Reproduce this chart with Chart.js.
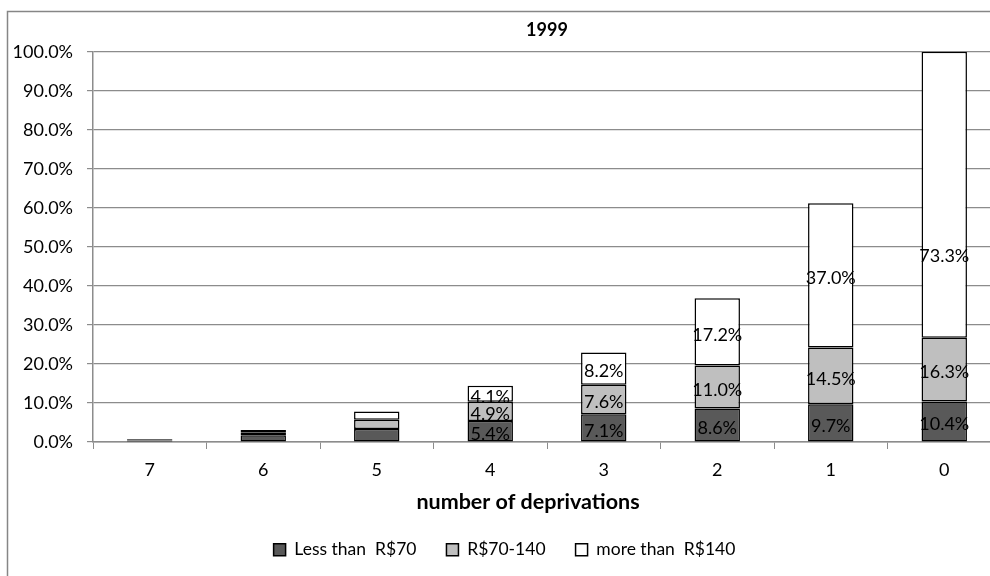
<!DOCTYPE html>
<html>
<head>
<meta charset="utf-8">
<script src="https://cdn.jsdelivr.net/npm/chart.js@4/dist/chart.umd.min.js"></script>
<style>
  html, body { margin: 0; padding: 0; background: #fff; overflow: hidden; }
  #wrap { position: absolute; left: 0; top: 0; width: 1030px; height: 600px; }
</style>
</head>
<body>
<div id="wrap"><canvas id="chart" width="1030" height="600"></canvas></div>
<script>
// Share of people by number of deprivations and household income band, 1999
const categories = ['7', '6', '5', '4', '3', '2', '1', '0'];
const lessThan70 = [0.4, 1.7, 3.3, 5.4, 7.1, 8.6, 9.7, 10.4];
const r70to140 = [0.2, 0.7, 2.4, 4.9, 7.6, 11.0, 14.5, 16.3];
const moreThan140 = [0.2, 0.7, 2.1, 4.1, 8.2, 17.2, 37.0, 73.3];
const yTicks = [0, 10, 20, 30, 40, 50, 60, 70, 80, 90, 100];

const FONT = 'Lato, "Liberation Sans", sans-serif';
const GRID = '#8c8c8c';

// The label of the tall top segment of column '0' sits lower than its centre
const labelAt = { '2:7': 48.5 };

// Outer frame of the chart
const framePlugin = {
  id: 'frame',
  beforeDraw(chart) {
    const ctx = chart.ctx;
    ctx.save();
    ctx.strokeStyle = '#868686';
    ctx.lineWidth = 1.5;
    ctx.strokeRect(7.5, 11.5, chart.width + 20, chart.height + 20);
    ctx.restore();
  }
};

// Value labels in each stacked segment, and the x-axis title
const labelPlugin = {
  id: 'segmentLabels',
  afterDatasetsDraw(chart) {
    const ctx = chart.ctx;
    const yScale = chart.scales.y;
    ctx.save();
    ctx.font = '18px ' + FONT;
    ctx.fillStyle = '#000';
    ctx.textAlign = 'center';
    ctx.textBaseline = 'middle';
    chart.data.datasets.forEach((ds, di) => {
      const meta = chart.getDatasetMeta(di);
      meta.data.forEach((bar, i) => {
        const v = ds.data[i];
        if (v < 4) return;
        const key = di + ':' + i;
        const yMid = key in labelAt
          ? yScale.getPixelForValue(labelAt[key])
          : (bar.y + bar.base) / 2;
        ctx.fillText(v.toFixed(1) + '%', bar.x, yMid + 3);
      });
    });
    ctx.restore();
  },
  afterDraw(chart) {
    const ctx = chart.ctx;
    ctx.save();
    ctx.font = 'bold 21.5px ' + FONT;
    ctx.fillStyle = '#000';
    ctx.textAlign = 'center';
    ctx.textBaseline = 'middle';
    ctx.fillText('number of deprivations', 528, 502);
    ctx.restore();
  }
};

const ds = (label, data, color) => ({
  label, data,
  backgroundColor: color,
  borderColor: '#000',
  borderWidth: 1.5,
  borderSkipped: false,
  categoryPercentage: 1.0,
  barPercentage: 0.4
});

new Chart(document.getElementById('chart'), {
  type: 'bar',
  data: {
    labels: categories,
    datasets: [
      ds('Less than  R$70', lessThan70, '#595959'),
      ds('R$70-140', r70to140, '#bfbfbf'),
      ds('more than  R$140', moreThan140, '#ffffff')
    ]
  },
  options: {
    responsive: false,
    animation: false,
    events: [],
    layout: { padding: { left: 8, top: 13, right: 29, bottom: 31.5 } },
    plugins: {
      title: {
        display: true,
        text: '1999',
        fullSize: false,
        color: '#000',
        font: { family: FONT, size: 18, weight: 'bold' },
        padding: { top: 6, bottom: 11.1 }
      },
      legend: {
        display: true,
        position: 'bottom',
        labels: {
          color: '#000',
          font: { family: FONT, size: 17.5 },
          boxWidth: 12,
          boxHeight: 12,
          padding: 30
        }
      },
      tooltip: { enabled: false }
    },
    scales: {
      x: {
        stacked: true,
        grid: {
          drawOnChartArea: false,
          offset: true,
          tickLength: 7,
          color: GRID
        },
        border: { color: GRID, width: 1.5 },
        ticks: {
          color: '#000',
          font: { family: FONT, size: 18 },
          padding: 10,
          maxRotation: 0
        },
        afterFit(scale) { scale.height = 69; }
      },
      y: {
        stacked: true,
        min: 0,
        max: 100,
        afterBuildTicks(scale) { scale.ticks = yTicks.map(v => ({ value: v })); },
        grid: { color: GRID, tickLength: 6, lineWidth: 1.2 },
        border: { color: GRID, width: 1.5 },
        ticks: {
          color: '#000',
          font: { family: FONT, size: 18 },
          padding: 14,
          callback: v => v.toFixed(1) + '%'
        },
        afterFit(scale) { scale.width = 85; }
      }
    }
  },
  plugins: [framePlugin, labelPlugin]
});
</script>
</body>
</html>
